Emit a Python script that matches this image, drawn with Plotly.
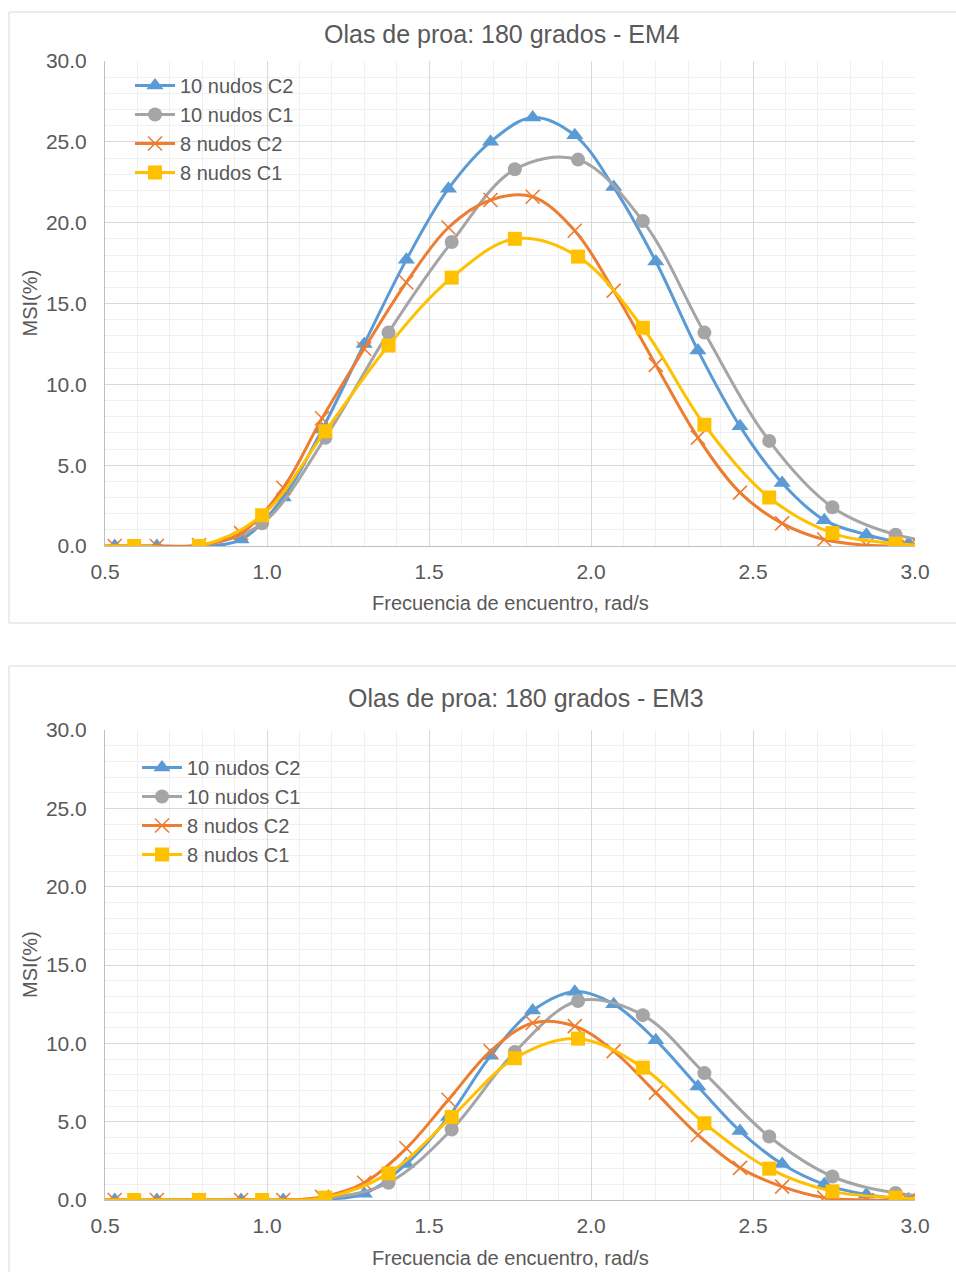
import plotly.graph_objects as go

# ---------------- data ----------------
freq_c2 = [0.40, 0.53, 0.66, 0.79, 0.92, 1.05, 1.17, 1.30, 1.43, 1.56, 1.69,
           1.82, 1.95, 2.07, 2.20, 2.33, 2.46, 2.59, 2.72, 2.85, 2.98, 3.11]
freq_c1 = [0.39, 0.59, 0.79, 0.985, 1.18, 1.375, 1.57, 1.765, 1.96, 2.16,
           2.35, 2.55, 2.745, 2.94, 3.14]

series_names = ["10 nudos C2", "10 nudos C1", "8 nudos C2", "8 nudos C1"]

# EM4 (top chart)
em4_10_c2 = [0, 0, 0, 0, 0.4, 3.0, 7.2, 12.5, 17.7, 22.1, 25.0, 26.5, 25.4,
             22.2, 17.6, 12.1, 7.4, 3.9, 1.6, 0.7, 0.15, 0.0]
em4_10_c1 = [0, 0, 0, 1.4, 6.7, 13.2, 18.8, 23.3, 23.9, 20.1, 13.2, 6.5,
             2.4, 0.7, 0.1]
em4_8_c2 = [0, 0, 0, 0.05, 0.8, 3.6, 7.9, 12.2, 16.3, 19.7, 21.4, 21.6, 19.5,
            15.8, 11.2, 6.7, 3.3, 1.4, 0.4, 0.05, 0, 0]
em4_8_c1 = [0, 0, 0, 1.9, 7.1, 12.4, 16.6, 19.0, 17.9, 13.5, 7.5, 3.0, 0.8,
            0.15, 0]

# EM3 (bottom chart)
em3_10_c2 = [0, 0, 0, 0, 0, 0, 0.05, 0.4, 2.3, 5.3, 9.2, 12.1, 13.3, 12.5,
             10.2, 7.25, 4.4, 2.3, 1.0, 0.35, 0.05, 0]
em3_10_c1 = [0, 0, 0, 0, 0.1, 1.1, 4.5, 9.45, 12.7, 11.8, 8.1, 4.05, 1.5,
             0.45, 0.1]
em3_8_c2 = [0, 0, 0, 0, 0, 0, 0.2, 1.1, 3.3, 6.4, 9.5, 11.3, 11.1, 9.5, 6.85,
            4.15, 2.05, 0.85, 0.15, 0, 0, 0]
em3_8_c1 = [0, 0, 0, 0, 0.15, 1.7, 5.3, 9.05, 10.3, 8.45, 4.9, 2.0, 0.55,
            0.15, 0]

titles = ["Olas de proa: 180 grados - EM4", "Olas de proa: 180 grados - EM3"]
x_title = "Frecuencia de encuentro, rad/s"
y_title = "MSI(%)"

# ---------------- styling ----------------
W, H = 956, 1272
FONT = "Liberation Sans, Arial, sans-serif"
TXT = "#595959"
colors = ["#5B9BD5", "#A5A5A5", "#ED7D31", "#FFC000"]
symbols = ["triangle-up", "circle", "x-thin", "square"]
sizes = [15, 14, 14, 14]


def px(x):
    return x / W


def py(y):
    return 1 - y / H


fig = go.Figure()

charts = [
    dict(xs=[freq_c2, freq_c1, freq_c2, freq_c1],
         ys=[em4_10_c2, em4_10_c1, em4_8_c2, em4_8_c1],
         xa="x", ya="y", legend="legend"),
    dict(xs=[freq_c2, freq_c1, freq_c2, freq_c1],
         ys=[em3_10_c2, em3_10_c1, em3_8_c2, em3_8_c1],
         xa="x2", ya="y2", legend="legend2"),
]

for c in charts:
    for i in range(4):
        marker = dict(symbol=symbols[i], size=sizes[i], color=colors[i])
        if symbols[i] == "x-thin":
            marker["line"] = dict(color=colors[i], width=1.6)
        fig.add_trace(go.Scatter(
            x=c["xs"][i], y=c["ys"][i], name=series_names[i],
            mode="lines+markers", xaxis=c["xa"], yaxis=c["ya"],
            line=dict(color=colors[i], width=3, shape="spline", smoothing=1.0),
            marker=marker, legend=c["legend"],
        ))

# plot areas (pixels)
areas = [dict(x0=105, x1=915, y0=61, y1=546),
         dict(x0=105, x1=915, y0=730, y1=1200)]

axis_common = dict(
    showgrid=True, gridcolor="#D9D9D9", gridwidth=1,
    showline=True, linecolor="#BFBFBF", linewidth=1,
    zeroline=False, ticks="", automargin=False,
    tickfont=dict(family=FONT, size=21, color=TXT),
    tickformat=".1f",
)

layout = dict(
    width=W, height=H, margin=dict(l=0, r=0, t=0, b=0, autoexpand=False),
    paper_bgcolor="white", plot_bgcolor="white",
    font=dict(family=FONT, color=TXT, size=21),
    showlegend=True,
)

for k, a in enumerate(areas):
    sfx = "" if k == 0 else "2"
    layout["xaxis" + sfx] = dict(
        axis_common, domain=[px(a["x0"]), px(a["x1"])], range=[0.5, 3.0],
        dtick=0.5, tick0=0.5, anchor="y" + sfx, ticklabelstandoff=7,
        minor=dict(dtick=0.1, showgrid=True, gridcolor="#F0F0F0", gridwidth=1),
    )
    layout["yaxis" + sfx] = dict(
        axis_common, domain=[py(a["y1"]), py(a["y0"])], range=[0, 30],
        dtick=5, anchor="x" + sfx, ticklabelstandoff=13,
        minor=dict(dtick=1, showgrid=True, gridcolor="#F0F0F0", gridwidth=1),
    )

legend_common = dict(
    bgcolor="rgba(255,255,255,0)", borderwidth=0,
    font=dict(family=FONT, size=20, color=TXT),
    xanchor="left", yanchor="top", tracegroupgap=0, itemwidth=40,
)
layout["legend"] = dict(legend_common, x=px(130), y=py(66))
layout["legend2"] = dict(legend_common, x=px(137), y=py(748))

fig.update_layout(**layout)

# chart frames
frames = [dict(x0=9, y0=12, x1=1000, y1=623),
          dict(x0=9, y0=666, x1=1000, y1=1300)]
for f in frames:
    fig.add_shape(type="rect", xref="paper", yref="paper",
                  x0=px(f["x0"]), x1=px(f["x1"]), y0=py(f["y1"]), y1=py(f["y0"]),
                  line=dict(color="#D9D9D9", width=1), fillcolor="rgba(0,0,0,0)",
                  layer="below")

# titles & axis titles
title_pos = [(502, 34), (526, 698)]
xt_pos = [(510, 603), (510, 1258)]
yt_pos = [(30, 303.5), (30, 965)]
for k in range(2):
    fig.add_annotation(text=titles[k], x=px(title_pos[k][0]), y=py(title_pos[k][1]),
                       xref="paper", yref="paper", showarrow=False,
                       xanchor="center", yanchor="middle",
                       font=dict(family=FONT, size=25, color=TXT))
    fig.add_annotation(text=x_title, x=px(xt_pos[k][0]), y=py(xt_pos[k][1]),
                       xref="paper", yref="paper", showarrow=False,
                       xanchor="center", yanchor="middle",
                       font=dict(family=FONT, size=20, color=TXT))
    fig.add_annotation(text=y_title, x=px(yt_pos[k][0]), y=py(yt_pos[k][1]),
                       xref="paper", yref="paper", showarrow=False, textangle=-90,
                       xanchor="center", yanchor="middle",
                       font=dict(family=FONT, size=20, color=TXT))

fig.write_html("out.html", config={"displayModeBar": False},
               post_script="document.body.style.margin='0';document.body.style.overflow='hidden';")
